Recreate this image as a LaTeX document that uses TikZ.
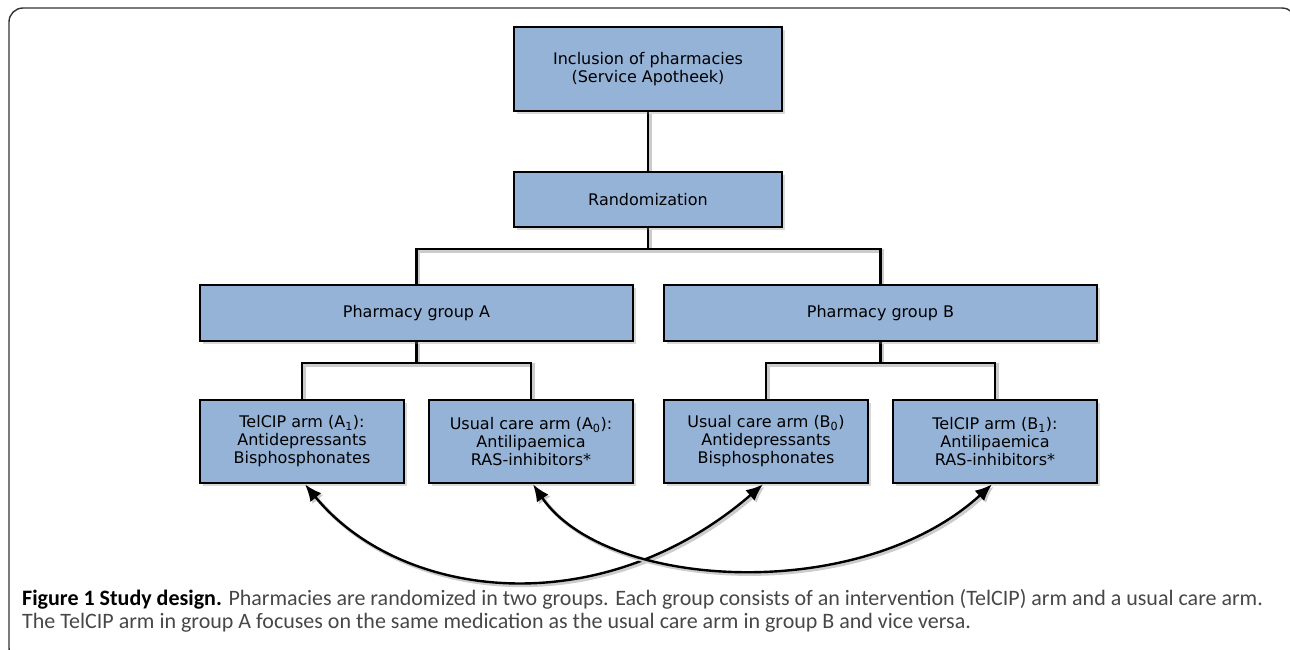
\documentclass[tikz,border=0pt]{standalone}
\usepackage{fontspec}
\setmainfont{DejaVu Sans}
\newfontfamily\capfont{Carlito}
\usepackage{xcolor}
\usetikzlibrary{positioning,arrows.meta,shadows,backgrounds}
\definecolor{boxblue}{HTML}{95B3D7}

\begin{document}
\begin{tikzpicture}[x=1pt,y=-1pt,>={Latex[length=17pt,width=14pt]},
  box/.style={draw=black,line width=2.6pt,fill=boxblue,inner sep=0pt,align=center,
    font=\fontsize{16}{18}\selectfont,
    drop shadow={shadow xshift=3pt,shadow yshift=-3pt,opacity=0.3}},
  link/.style={line width=2.4pt,
    preaction={draw=black!20,line width=3.5pt,transform canvas={shift={(2pt,-2pt)}}}},
  caption/.style={anchor=base west,inner sep=0pt,text=black!72,
    font={\fontsize{22}{26}\selectfont\capfont}}]
  \useasboundingbox (0,0) rectangle (1290,649);
  \clip (0,0) rectangle (1290,649);
  \draw[line width=1.4pt,black!80,rounded corners=14pt] (9,8) rectangle (1296,662);

  % flow boxes
  \node[box,minimum width=268pt,minimum height=84pt] (incl) at (648,69)
    {Inclusion of pharmacies\\(Service Apotheek)};
  \node[box,minimum width=268pt,minimum height=55pt] (rand) at (648,199.5) {Randomization};
  \node[box,minimum width=433pt,minimum height=56pt] (grpA) at (416.5,313) {Pharmacy group A};
  \node[box,minimum width=433pt,minimum height=56pt] (grpB) at (880.5,313) {Pharmacy group B};
  \foreach \nm/\cx/\txt in {
      armAone/302/{TelCIP arm (A\textsubscript{1}):\\Antidepressants\\Bisphosphonates},
      armAzero/531/{Usual care arm (A\textsubscript{0}):\\Antilipaemica\\RAS-inhibitors*},
      armBzero/766/{Usual care arm (B\textsubscript{0})\\Antidepressants\\Bisphosphonates},
      armBone/995/{TelCIP arm (B\textsubscript{1}):\\Antilipaemica\\RAS-inhibitors*}} {
    \node[box,minimum width=204pt,minimum height=83pt] (\nm) at (\cx,441.5) {\txt};
  }

  \coordinate (split) at (648,249);
  \coordinate (splitA) at (416.5,363);
  \coordinate (splitB) at (880.5,363);
  \begin{scope}[on background layer]
    \draw[link] (incl) -- (rand);
    \draw[link] (rand) -- (split);
    \draw[link] (grpA.north) |- (split) -| (grpB.north);
    \draw[link] (grpA) -- (splitA);
    \draw[link] (armAone.north) |- (splitA) -| (armAzero.north);
    \draw[link] (grpB) -- (splitB);
    \draw[link] (armBzero.north) |- (splitB) -| (armBone.north);
    % swapped medication arms
    \draw[link,<->] ([xshift=3pt]armAone.south) .. controls (400,600) and (600,625) .. ([xshift=-3pt]armBzero.south);
    \draw[link,<->] ([xshift=2pt]armAzero.south) .. controls (605,590) and (860,605) .. ([xshift=-3pt]armBone.south);
  \end{scope}

  \node[caption] (capA) at (22,605)
    {{\color{black}\bfseries Figure 1 Study design.} Pharmacies are randomized in two groups. Each group consists of an intervention (TelCIP) arm and a usual care arm.};
  \node[caption] (capB) at (22,628)
    {The TelCIP arm in group A focuses on the same medication as the usual care arm in group B and vice versa.};
\end{tikzpicture}
\end{document}
